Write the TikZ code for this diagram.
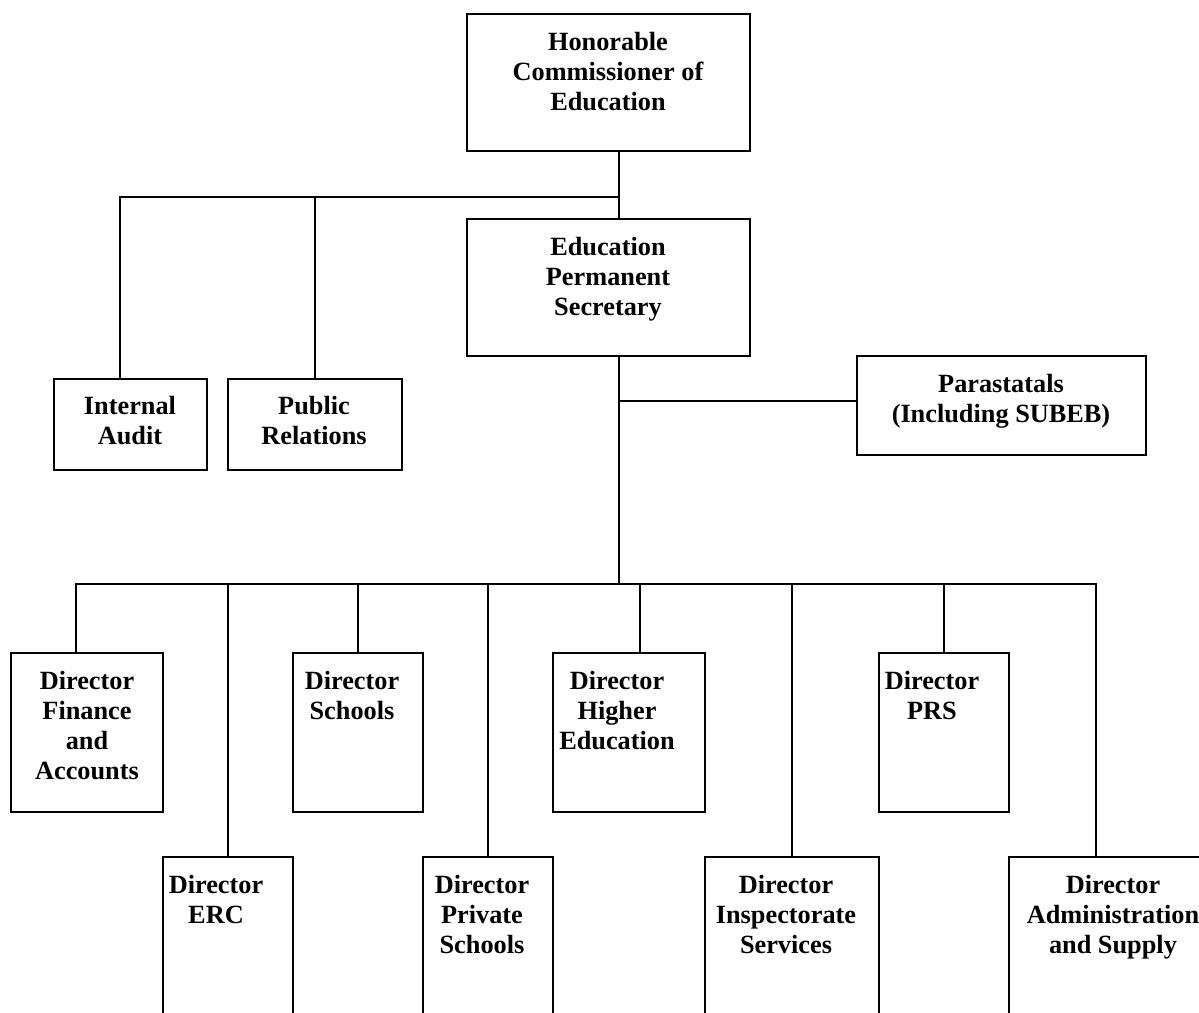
\documentclass[tikz,border=0pt]{standalone}
\usepackage{fontspec}
\setmainfont{Liberation Serif}
\newcommand{\mlines}[1]{\begin{tabular}[t]{@{}c@{}}#1\end{tabular}}
\tikzset{
  orgbox/.style 2 args={draw, line width=1.5pt, rectangle, anchor=north west,
    minimum width=#1pt, minimum height=#2pt, inner sep=0pt, outer sep=0pt},
  orgtext/.style={anchor=base, inner sep=0pt,
    font=\fontsize{26.3}{30}\selectfont\bfseries},
  link/.style={line width=1.5pt}
}
\begin{document}
\begin{tikzpicture}[x=1pt,y=-1pt]
\useasboundingbox (0,0) rectangle (1199,1012);
\fill[white] (0,0) rectangle (1199,1012);
\clip (0,0) rectangle (1199,1012);

% boxes
\node[orgbox={283}{137}] (comm) at (467,14) {};
\node[orgbox={283}{137}] (ps) at (467,219) {};
\node[orgbox={153}{91}] (audit) at (54,379) {};
\node[orgbox={174}{91}] (pr) at (228,379) {};
\node[orgbox={289}{99}] (para) at (857,356) {};

\node[orgbox={152}{159}] (fin) at (11,653) {};
\node[orgbox={130}{159}] (sch) at (293,653) {};
\node[orgbox={152}{159}] (high) at (553,653) {};
\node[orgbox={130}{159}] (prs) at (879,653) {};

\node[orgbox={130}{250}] (erc) at (163,857) {};
\node[orgbox={130}{250}] (priv) at (423,857) {};
\node[orgbox={174}{250}] (insp) at (705,857) {};
\node[orgbox={230}{250}] (adm) at (1009,857) {};

% texts
\node[orgtext] (commT) at ([xshift=-0.5pt,yshift=-36.7pt]comm.north) {\mlines{Honorable\\Commissioner of\\Education}};
\node[orgtext] (psT) at ([xshift=-0.5pt,yshift=-36.7pt]ps.north) {\mlines{Education\\Permanent\\Secretary}};
\node[orgtext] (auditT) at ([xshift=-0.5pt,yshift=-35pt]audit.north) {\mlines{Internal\\Audit}};
\node[orgtext] (prT) at ([xshift=-1pt,yshift=-35pt]pr.north) {\mlines{Public\\Relations}};
\node[orgtext] (paraT) at ([xshift=-0.5pt,yshift=-36.7pt]para.north) {\mlines{Parastatals\\(Including SUBEB)}};

\node[orgtext] (finT) at ([yshift=-36.7pt]fin.north) {\mlines{Director\\Finance\\and\\Accounts}};
\node[orgtext] (schT) at ([xshift=-6pt,yshift=-36.7pt]sch.north) {\mlines{Director\\Schools}};
\node[orgtext] (highT) at ([xshift=-12pt,yshift=-36.7pt]high.north) {\mlines{Director\\Higher\\Education}};
\node[orgtext] (prsT) at ([xshift=-12pt,yshift=-36.7pt]prs.north) {\mlines{Director\\PRS}};

\node[orgtext] (ercT) at ([xshift=-12pt,yshift=-36.7pt]erc.north) {\mlines{Director\\ERC}};
\node[orgtext] (privT) at ([xshift=-6pt,yshift=-36.7pt]priv.north) {\mlines{Director\\Private\\Schools}};
\node[orgtext] (inspT) at ([xshift=-6pt,yshift=-36.7pt]insp.north) {\mlines{Director\\Inspectorate\\Services}};
\node[orgtext] (admT) at ([xshift=-11pt,yshift=-36.7pt]adm.north) {\mlines{Director\\Administration\\and Supply}};

% junctions
\coordinate (jA) at (619,197);
\coordinate (jB) at (619,401);
\coordinate (jC) at (619,584);
\coordinate (auditC) at ([xshift=-10.5pt]audit.north);
\coordinate (finC) at ([xshift=-11pt]fin.north);
\coordinate (highC) at ([xshift=11pt]high.north);
\coordinate (admC) at ([xshift=-28pt]adm.north);

% connectors
\draw[link] (comm.south -| jA) -- (ps.north -| jA);
\draw[link] (jA) -- (auditC |- jA) -- (auditC);
\draw[link] (pr.north |- jA) -- (pr.north);
\draw[link] (ps.south -| jA) -- (jC);
\draw[link] (jB) -- (jB -| para.west);
\draw[link] (finC) -- (finC |- jC) -- (admC |- jC) -- (admC);
\draw[link] (erc.north |- jC) -- (erc.north);
\draw[link] (sch.north |- jC) -- (sch.north);
\draw[link] (priv.north |- jC) -- (priv.north);
\draw[link] (highC |- jC) -- (highC);
\draw[link] (insp.north |- jC) -- (insp.north);
\draw[link] (prs.north |- jC) -- (prs.north);
\end{tikzpicture}
\end{document}
